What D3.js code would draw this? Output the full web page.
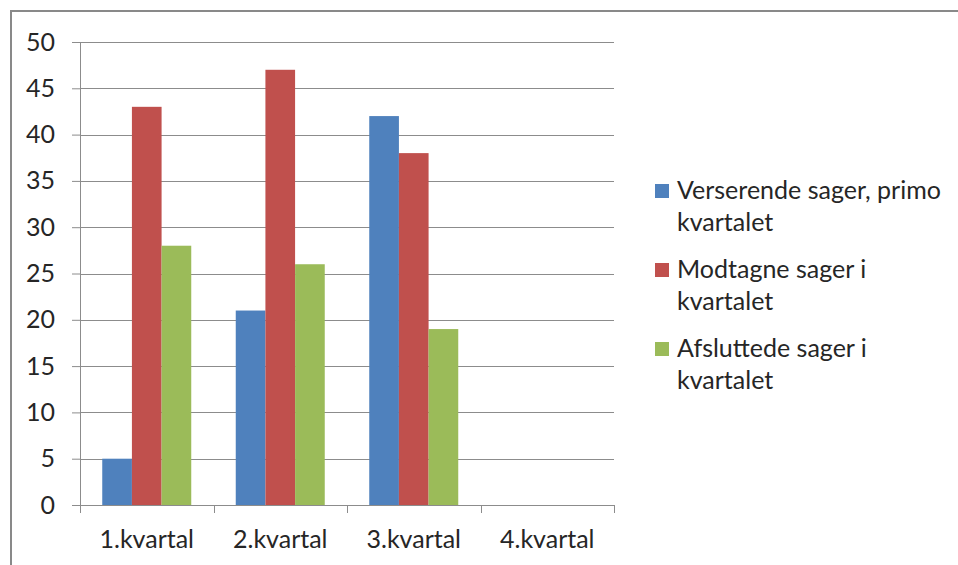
<!DOCTYPE html>
<html>
<head>
<meta charset="utf-8">
<script src="https://cdn.jsdelivr.net/npm/d3@7"></script>
<style>
  body { margin: 0; background: #fff; }
  text { font-family: Lato, "Liberation Sans", sans-serif; fill: #262626; }
</style>
</head>
<body>
<div id="chart"></div>
<script>
// data
var categories = ["1.kvartal", "2.kvartal", "3.kvartal", "4.kvartal"];
var seriesNames = ["Verserende sager, primo kvartalet", "Modtagne sager i kvartalet", "Afsluttede sager i kvartalet"];
var verserende = [5, 21, 42, null];
var modtagne = [43, 47, 38, null];
var afsluttede = [28, 26, 19, null];
var yTicks = [0, 5, 10, 15, 20, 25, 30, 35, 40, 45, 50];
var colors = ["#4F81BD", "#C0504D", "#9BBB59"];

var seriesValues = [verserende, modtagne, afsluttede];

var W = 958, H = 565;
var margin = {top: 42, right: 344, bottom: 60, left: 80};
var width = W - margin.left - margin.right;
var height = H - margin.top - margin.bottom;
var fontSize = "25px";

var root = d3.select("#chart").append("svg")
    .attr("width", W)
    .attr("height", H);

// outer frame
root.append("rect")
    .attr("x", 11).attr("y", 11)
    .attr("width", W + 20).attr("height", H + 20)
    .attr("fill", "none")
    .attr("stroke", "#898989")
    .attr("stroke-width", 2);

var svg = root.append("g")
    .attr("transform", "translate(" + margin.left + "," + margin.top + ")");

var x0 = d3.scaleBand().domain(categories).range([0, width]).paddingInner(0).paddingOuter(0);
var x1 = d3.scaleBand().domain(d3.range(seriesNames.length)).range([0, x0.bandwidth()]).paddingInner(0).paddingOuter(0.75);
var y = d3.scaleLinear().domain([0, 50]).range([height, 0]);

// gridlines
svg.append("g")
  .selectAll("line")
  .data(yTicks.filter(function(d) { return d > 0; }))
  .enter().append("line")
    .attr("x1", 0).attr("x2", width)
    .attr("y1", function(d) { return Math.round(y(d)) + 0.5; })
    .attr("y2", function(d) { return Math.round(y(d)) + 0.5; })
    .attr("stroke", "#8c8c8c")
    .attr("stroke-width", 1);

// bars
var rows = [];
categories.forEach(function(c, i) {
  seriesValues.forEach(function(vals, s) {
    if (vals[i] != null) rows.push({cat: c, s: s, value: vals[i]});
  });
});

svg.selectAll("rect.bar")
    .data(rows)
  .enter().append("rect")
    .attr("class", "bar")
    .attr("x", function(d) { return x0(d.cat) + x1(d.s); })
    .attr("width", x1.bandwidth())
    .attr("y", function(d) { return y(d.value); })
    .attr("height", function(d) { return height - y(d.value); })
    .attr("fill", function(d) { return colors[d.s]; });

// y axis
var yAxis = svg.append("g")
    .call(d3.axisLeft(y).tickValues(yTicks).tickSize(8).tickPadding(17).tickFormat(d3.format("d")));
yAxis.select(".domain").attr("stroke", "#8c8c8c").attr("d", "M0.5," + height + "V0");
yAxis.selectAll(".tick line").attr("stroke", "#8c8c8c");
yAxis.selectAll(".tick text").attr("font-size", fontSize).attr("fill", "#262626")
    .attr("font-family", "Lato, 'Liberation Sans', sans-serif");

// x axis
var xAxis = svg.append("g")
    .attr("transform", "translate(0," + height + ")")
    .call(d3.axisBottom(x0).tickSize(0).tickPadding(25));
xAxis.select(".domain").attr("stroke", "#8c8c8c").attr("d", "M0," + 0.5 + "H" + width);
xAxis.selectAll(".tick text").attr("font-size", fontSize).attr("fill", "#262626")
    .attr("font-family", "Lato, 'Liberation Sans', sans-serif");
// category boundary ticks
xAxis.append("g")
  .selectAll("line")
  .data(categories.concat(["end"]))
  .enter().append("line")
    .attr("x1", function(d, i) { return Math.round(i * x0.step()) + 0.5; })
    .attr("x2", function(d, i) { return Math.round(i * x0.step()) + 0.5; })
    .attr("y1", 0).attr("y2", 8)
    .attr("stroke", "#8c8c8c");

// legend
var legend = root.append("g")
    .attr("transform", "translate(655,184)");

var item = legend.selectAll("g.item")
    .data(seriesNames)
  .enter().append("g")
    .attr("class", "item")
    .attr("transform", function(d, i) { return "translate(0," + (i * 79) + ")"; });

item.append("rect")
    .attr("width", 14).attr("height", 14)
    .attr("fill", function(d, i) { return colors[i]; });

item.append("text")
    .attr("x", 22)
    .attr("y", 15)
    .attr("font-size", fontSize)
    .each(function(d) {
      var t = d3.select(this);
      var words = d.split(" ");
      var line = [];
      var tspan = t.append("tspan").attr("x", 22).attr("dy", 0);
      words.forEach(function(w) {
        line.push(w);
        tspan.text(line.join(" "));
        if (tspan.node().getComputedTextLength() > 275 && line.length > 1) {
          line.pop();
          tspan.text(line.join(" "));
          line = [w];
          tspan = t.append("tspan").attr("x", 22).attr("dy", 32).text(w);
        }
      });
    });
</script>
</body>
</html>
